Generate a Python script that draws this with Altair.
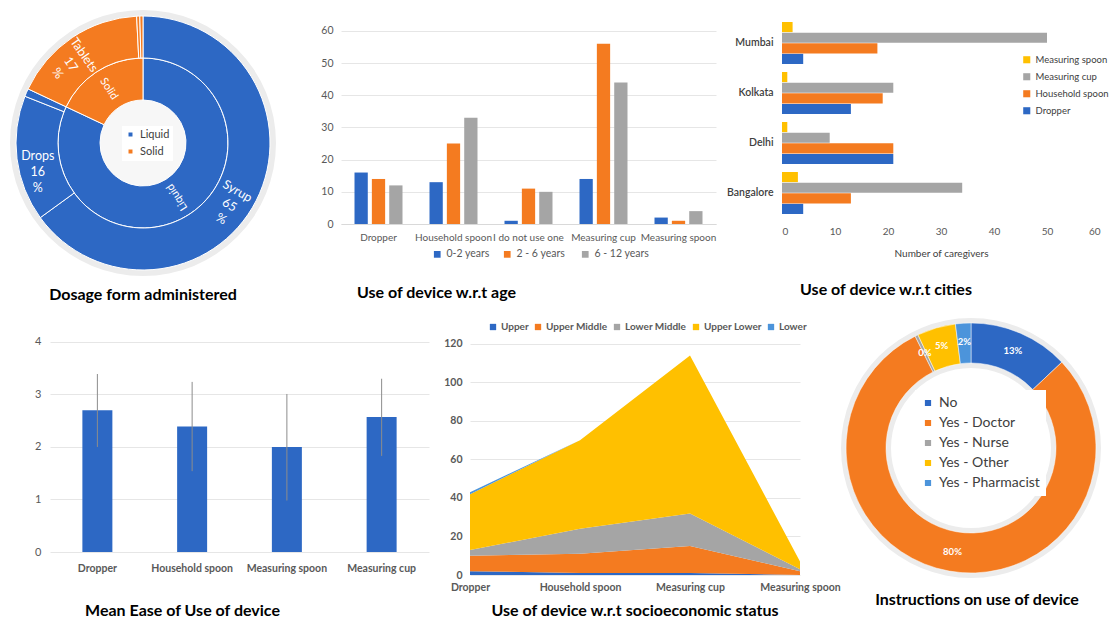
import altair as alt
import pandas as pd

# ---------------- colours / fonts ----------------
BLUE = "#2D68C4"
ORANGE = "#F47B20"
GRAY = "#A5A5A5"
YELLOW = "#FFC000"
LBLUE = "#4C94DB"
FONT = "Lato"
TXT = "#595959"

# ---------------- data ----------------
# Panel A: dosage form (sunburst)
dose_inner_labels = ["Liquid", "Solid"]
dose_inner_values = [82, 18]
dose_outer_labels = ["Syrup", "Drops", "Other liquid", "Tablets", "Other solid", "Other solid 2"]
dose_outer_groups = ["Liquid", "Liquid", "Liquid", "Solid", "Solid", "Solid"]
dose_outer_values = [65, 16, 1, 17.2, 0.4, 0.4]
dose_outer_text = ["Syrup\n65\n%", "Drops\n16\n%", "", "Tablets\n17\n%", "", ""]

# Panel B: device by age
age_devices = ["Dropper", "Household spoon", "I do not use one", "Measuring cup", "Measuring spoon"]
age_groups = ["0-2 years", "2 - 6  years", "6 - 12 years"]
age_0_2 = [16, 13, 1, 14, 2]
age_2_6 = [14, 25, 11, 56, 1]
age_6_12 = [12, 33, 10, 44, 4]

# Panel C: device by city
city_names = ["Mumbai", "Kolkata", "Delhi", "Bangalore"]
city_devices = ["Measuring spoon", "Measuring cup", "Household spoon", "Dropper"]
city_spoon = [2, 1, 1, 3]
city_cup = [50, 21, 9, 34]
city_household = [18, 19, 21, 13]
city_dropper = [4, 13, 21, 4]

# Panel D: mean ease of use
ease_devices = ["Dropper", "Household spoon", "Measuring spoon", "Measuring cup"]
ease_mean = [2.70, 2.39, 2.00, 2.57]
ease_low = [2.00, 1.54, 0.98, 1.83]
ease_high = [3.39, 3.24, 3.01, 3.30]

# Panel E: socioeconomic status (stacked area)
ses_devices = ["Dropper", "Household spoon", "Measuring cup", "Measuring spoon"]
ses_classes = ["Upper", "Upper Middle", "Lower Middle", "Upper Lower", "Lower"]
ses_upper = [2, 1, 1, 0]
ses_upper_middle = [8, 10, 14, 2]
ses_lower_middle = [3, 13, 17, 1]
ses_upper_lower = [29, 46, 82, 4]
ses_lower = [1, 0, 0, 0]

# Panel F: instructions
instr_labels = ["No", "Yes - Doctor", "Yes - Nurse", "Yes - Other", "Yes - Pharmacist"]
instr_values = [13, 80, 0.4, 5, 2]

# label rotation styles (sunburst)
rot_outer = {"Syrup": 30, "Drops": 0, "Tablets": 55}
rot_inner = {"Liquid": 237, "Solid": 57}


def panel_title(text, offset, dx=0):
    return alt.TitleParams(text, orient="bottom", offset=offset, dx=dx, anchor="middle",
                           font=FONT, fontSize=16, fontWeight="bold", color="black")


# ---------------- Panel A ----------------
inner_df = pd.DataFrame({"name": dose_inner_labels, "group": dose_inner_labels,
                         "v": dose_inner_values, "k": range(2)})
inner_df["txt"] = inner_df["name"]
inner_df["rot"] = [rot_inner[n] for n in inner_df["name"]]
outer_df = pd.DataFrame({"name": dose_outer_labels, "group": dose_outer_groups,
                         "v": dose_outer_values, "k": range(len(dose_outer_values)),
                         "txt": dose_outer_text})
outer_df["rot"] = [rot_outer.get(n, 0) for n in outer_df["name"]]

dose_color = alt.Color("group:N", scale=alt.Scale(domain=["Liquid", "Solid"], range=[BLUE, ORANGE]),
                       legend=alt.Legend(orient="none", legendX=72, legendY=121, title=None,
                                         symbolType="square", symbolSize=30, labelFontSize=11,
                                         labelFont=FONT, labelColor="#404040", rowPadding=4,
                                         fillColor="white", padding=3))
halo_a = alt.Chart(pd.DataFrame({"v": [1]})).mark_arc(
    radius=133, radius2=40, theta=0, theta2=6.2832, color="#ECECEC").encode(
    opacity=alt.value(1))
center_a = alt.Chart(pd.DataFrame({"v": [1]})).mark_arc(
    radius=43, radius2=0, theta=0, theta2=6.2832, color="#F7F7F7").encode(
    opacity=alt.value(1))
inner_arc = alt.Chart(inner_df).mark_arc(radius=85, radius2=43, stroke="white", strokeWidth=1).encode(
    theta=alt.Theta("v:Q", stack=True), color=dose_color, order=alt.Order("k:Q"))
outer_arc = alt.Chart(outer_df).mark_arc(radius=127, radius2=85, stroke="white", strokeWidth=1).encode(
    theta=alt.Theta("v:Q", stack=True), color=dose_color, order=alt.Order("k:Q"))
inner_txt = alt.Chart(inner_df).mark_text(radius=64, color="white", font=FONT, fontSize=11).encode(
    theta=alt.Theta("v:Q", stack=True), text="txt:N", angle=alt.Angle("rot:Q", scale=None),
    order=alt.Order("k:Q"))
outer_txt = alt.Chart(outer_df).mark_text(radius=106, color="white", font=FONT, fontSize=12.5,
                                          lineBreak="\n", lineHeight=16).encode(
    theta=alt.Theta("v:Q", stack=True), text="txt:N", angle=alt.Angle("rot:Q", scale=None),
    order=alt.Order("k:Q"))
panel_a = alt.layer(halo_a, center_a, inner_arc, outer_arc, inner_txt, outer_txt).properties(
    width=186, height=276, title=panel_title("Dosage form administered", 6))

# ---------------- Panel B ----------------
age_df = pd.DataFrame({
    "device": age_devices * 3,
    "group": [g for g in age_groups for _ in age_devices],
    "count": age_0_2 + age_2_6 + age_6_12,
})
panel_b = alt.Chart(age_df).mark_bar().encode(
    x=alt.X("device:N", sort=age_devices,
            scale=alt.Scale(paddingInner=0.36, paddingOuter=0.18),
            axis=alt.Axis(title=None, labelAngle=0, ticks=False, domainColor="#D9D9D9",
                          labelPadding=8, labelFontSize=10, labelColor=TXT, labelFont=FONT)),
    xOffset=alt.XOffset("group:N", sort=age_groups, scale=alt.Scale(paddingInner=0.235)),
    y=alt.Y("count:Q", scale=alt.Scale(domain=[0, 68.08], nice=False),
            axis=alt.Axis(values=[0, 10, 20, 30, 40, 50, 60], ticks=False, domain=False, title=None,
                          gridColor="#E6E6E6", labelPadding=8, labelFontSize=10.5,
                          labelColor=TXT, labelFont=FONT)),
    color=alt.Color("group:N", sort=age_groups,
                    scale=alt.Scale(domain=age_groups, range=[BLUE, ORANGE, GRAY]),
                    legend=alt.Legend(orient="none", legendX=91, legendY=244, direction="horizontal",
                                      title=None, symbolType="square", symbolSize=45,
                                      labelFontSize=10.5, labelColor=TXT, labelFont=FONT,
                                      columnPadding=12)),
).properties(width=375, height=219, title=panel_title("Use of device w.r.t age", 25, -92))

# ---------------- Panel C ----------------
city_df = pd.DataFrame({
    "city": city_names * 4,
    "device": [d for d in city_devices for _ in city_names],
    "n": city_spoon + city_cup + city_household + city_dropper,
})
panel_c = alt.Chart(city_df).mark_bar().encode(
    y=alt.Y("city:N", sort=city_names,
            scale=alt.Scale(paddingInner=0.16, paddingOuter=0.21, align=0.81),
            axis=alt.Axis(ticks=False, domain=False, labelPadding=9, labelFontSize=10.5, title=None,
                          labelFontWeight=600, labelColor="#404040", labelFont=FONT)),
    yOffset=alt.YOffset("device:N", sort=city_devices, scale=alt.Scale(paddingInner=0.05)),
    x=alt.X("n:Q", scale=alt.Scale(domain=[0, 60], nice=False),
            axis=alt.Axis(values=[0, 10, 20, 30, 40, 50, 60], grid=False, ticks=False, domain=False,
                          labelPadding=8, labelFontSize=10, labelColor=TXT, labelFont=FONT,
                          title="Number of caregivers", titlePadding=12, titleFontSize=10,
                          titleFontWeight="normal", titleColor="#404040", titleFont=FONT)),
    color=alt.Color("device:N", sort=city_devices,
                    scale=alt.Scale(domain=city_devices, range=[YELLOW, GRAY, ORANGE, BLUE]),
                    legend=alt.Legend(orient="none", legendX=240, legendY=50, title=None,
                                      symbolType="square", symbolSize=50, labelFontSize=9.5,
                                      labelColor="#404040", labelFont=FONT, rowPadding=6,
                                      labelOffset=4)),
).properties(width=318, height=213, title=panel_title("Use of device w.r.t cities", 24, -55))

# ---------------- Panel D ----------------
ease_df = pd.DataFrame({"device": ease_devices, "mean": ease_mean, "low": ease_low, "high": ease_high})
d_x = alt.X("device:N", sort=ease_devices, scale=alt.Scale(paddingInner=0, paddingOuter=0),
            axis=alt.Axis(title=None, labelAngle=0, ticks=False, domain=False, labelPadding=11.5,
                          labelFontSize=10.5, labelFontWeight="bold", labelColor=TXT, labelFont=FONT))
d_bars = alt.Chart(ease_df).mark_bar(size=30, color=BLUE).encode(
    x=d_x,
    y=alt.Y("mean:Q", scale=alt.Scale(domain=[0, 4.457], nice=False),
            axis=alt.Axis(values=[0, 0.5, 1, 1.5, 2, 2.5, 3, 3.5, 4], format="~g", ticks=False,
                          domain=False, gridColor="#E6E6E6", labelPadding=9, labelFontSize=11,
                          labelColor=TXT, labelFont=FONT,
                          # invisible title: only reserves the left margin of the figure
                          title=".", titleFontSize=1, titleColor="white", titleX=-45, titleY=5,
                          titleAngle=0, titleAlign="left", titleBaseline="top")))
d_err = alt.Chart(ease_df).mark_rule(color="#8C8C8C", strokeWidth=1).encode(
    x=alt.X("device:N", sort=ease_devices), y="low:Q", y2="high:Q")
panel_d = alt.layer(d_bars, d_err).properties(
    width=379, height=234, title=panel_title("Mean Ease of Use of device", 28.5, -57))

# ---------------- Panel E ----------------
ses_rows = []
for k, (cls, vals) in enumerate(zip(ses_classes, [ses_upper, ses_upper_middle, ses_lower_middle,
                                                   ses_upper_lower, ses_lower])):
    for dev, v in zip(ses_devices, vals):
        ses_rows.append({"device": dev, "cls": cls, "n": v, "k": k})
ses_df = pd.DataFrame(ses_rows)
panel_e = alt.Chart(ses_df).mark_area().encode(
    x=alt.X("device:N", sort=ses_devices, scale=alt.Scale(type="point", padding=0),
            axis=alt.Axis(title=None, labelAngle=0, ticks=False, domain=False, labelPadding=7,
                          labelFontSize=10.5, labelFontWeight="bold", labelColor=TXT, labelFont=FONT)),
    y=alt.Y("n:Q", stack="zero", scale=alt.Scale(domain=[0, 133.5], nice=False),
            axis=alt.Axis(values=[0, 20, 40, 60, 80, 100, 120], ticks=False, domain=False, title=None,
                          gridColor="#E6E6E6", labelPadding=8, labelFontSize=10.5,
                          labelFontWeight="bold", labelColor=TXT, labelFont=FONT)),
    color=alt.Color("cls:N", sort=ses_classes,
                    scale=alt.Scale(domain=ses_classes, range=[BLUE, ORANGE, GRAY, YELLOW, LBLUE]),
                    legend=alt.Legend(orient="none", legendX=18, legendY=4, direction="horizontal",
                                      title=None, symbolType="square", symbolSize=40,
                                      labelFontSize=10, labelFontWeight="bold", labelColor=TXT,
                                      labelFont=FONT, columnPadding=4, labelOffset=3)),
    order=alt.Order("k:Q"),
).properties(width=330, height=257,
             title=panel_title("Use of device w.r.t socioeconomic status", 10.5))

# ---------------- Panel F ----------------
instr_df = pd.DataFrame({"answer": instr_labels, "pct": instr_values, "k": range(len(instr_values))})
instr_df["txt"] = [f"{round(v)}%" for v in instr_values]
halo_f = alt.Chart(pd.DataFrame({"v": [1]})).mark_arc(
    radius=130, radius2=80, theta=0, theta2=6.2832, color="#ECECEC").encode(opacity=alt.value(1))
ring_f = alt.Chart(instr_df).mark_arc(radius=125, radius2=85, stroke="white", strokeWidth=0.5).encode(
    theta=alt.Theta("pct:Q", stack=True),
    color=alt.Color("answer:N", sort=instr_labels,
                    scale=alt.Scale(domain=instr_labels, range=[BLUE, ORANGE, GRAY, YELLOW, LBLUE]),
                    legend=alt.Legend(orient="none", legendX=74, legendY=72, title=None,
                                      symbolType="square", symbolSize=60, labelFontSize=14,
                                      labelColor="#404040", labelFont=FONT, rowPadding=6,
                                      fillColor="white", padding=6)),
    order=alt.Order("k:Q"))
txt_f = alt.Chart(instr_df).mark_text(radius=106, color="white", font=FONT, fontSize=9.5,
                                      fontWeight="bold").encode(
    theta=alt.Theta("pct:Q", stack=True), text="txt:N", order=alt.Order("k:Q"))
panel_f = alt.layer(halo_f, ring_f, txt_f).properties(
    width=260, height=260, title=panel_title("Instructions on use of device", 14, 6))

# ---------------- layout ----------------
row1 = alt.hconcat(
    panel_a,
    alt.hconcat(panel_b, panel_c, spacing=10).resolve_scale(color="independent"),
    spacing=44,
).resolve_scale(color="independent")
row2 = alt.hconcat(
    alt.hconcat(panel_d, panel_e, spacing=14).resolve_scale(color="independent"),
    panel_f,
    spacing=-10,
).resolve_scale(color="independent")

chart = alt.vconcat(row1, row2, spacing=15).resolve_scale(color="independent").properties(
    padding={"left": 5, "top": 5, "right": 0, "bottom": 0},
).configure(font=FONT).configure_view(stroke=None)

chart.save("out.html", embed_options={"renderer": "svg", "actions": False})
